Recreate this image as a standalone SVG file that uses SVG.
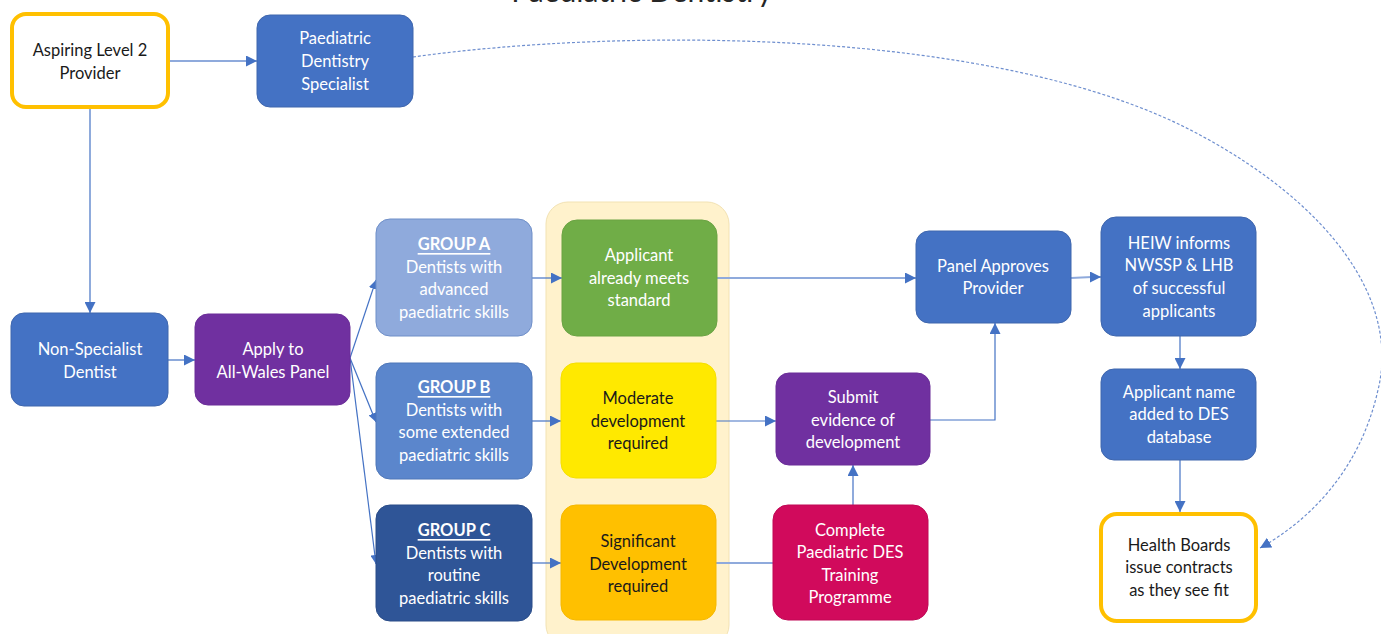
<svg xmlns="http://www.w3.org/2000/svg" width="1381" height="634" viewBox="0 0 1381 634">
<defs>
<marker id="arr" viewBox="0 0 10 10" refX="10" refY="5" markerWidth="9" markerHeight="9" markerUnits="userSpaceOnUse" orient="auto">
<path d="M0,0 L10,5 L0,10 z" fill="#4472C4"/>
</marker>
<marker id="arrL" viewBox="0 0 10 10" refX="10" refY="5" markerWidth="11" markerHeight="11" markerUnits="userSpaceOnUse" orient="auto">
<path d="M0,0 L10,5 L0,10 z" fill="#4472C4"/>
</marker>
</defs>
<style>
text{font-family:Lato,"Open Sans","Liberation Sans",sans-serif;font-size:16.5px;text-anchor:middle;dominant-baseline:central}
.w{fill:#ffffff}
.d{fill:#1a1a1a}
.box{stroke:#3f66ad;stroke-width:1}
.blue{fill:#4472C4}
.purple{fill:#7030A0;stroke:#6a2d98}
.ga{fill:#8FAADC;stroke:#6f8fc8}
.gb{fill:#5B86CC;stroke:#4f77b8}
.gc{fill:#2F5597;stroke:#2a4c88}
.green{fill:#70AD47;stroke:#6aa343}
.yel{fill:#FFE900;stroke:#f5df00}
.org{fill:#FFC000;stroke:#f5b800}
.crim{fill:#D10A5C;stroke:#c00855}
.outl{fill:#ffffff;stroke:#FFC000;stroke-width:4}
.c{fill:none;stroke:#4472C4;stroke-width:1.2}
.cl{fill:none;stroke:#8FAADC;stroke-width:2}
.dash{fill:none;stroke:#6f8fcf;stroke-width:1.2;stroke-dasharray:3 2}
.u{font-weight:bold;text-decoration:underline}
</style>
<text x="642" y="2" style="font-size:30px;fill:#262626;dominant-baseline:alphabetic">Paediatric Dentistry</text>

<g id="container"><rect x="546" y="202" width="183" height="445" rx="22" fill="#FFF2CC" stroke="#F2E2B3" stroke-width="1"/></g>

<g id="connectors">
<line class="cl" x1="168" y1="61" x2="249" y2="61"/><line class="c" x1="249" y1="61" x2="257" y2="61" marker-end="url(#arrL)"/>
<line class="c" x1="90" y1="107" x2="90" y2="313" marker-end="url(#arrL)"/>
<line class="c" x1="168" y1="360" x2="195" y2="360" marker-end="url(#arrL)"/>
<line class="c" x1="350" y1="358" x2="376" y2="280" marker-end="url(#arr)"/>
<line class="c" x1="350" y1="358" x2="376" y2="422" marker-end="url(#arr)"/>
<line class="c" x1="350" y1="358" x2="376" y2="564" marker-end="url(#arr)"/>
<line class="c" x1="532" y1="278" x2="562" y2="278" marker-end="url(#arrL)"/>
<line class="c" x1="532" y1="421" x2="561" y2="421" marker-end="url(#arrL)"/>
<line class="c" x1="532" y1="563" x2="561" y2="563" marker-end="url(#arrL)"/>
<line class="cl" x1="717" y1="278" x2="906" y2="278"/><line class="c" x1="905" y1="278" x2="916" y2="278" marker-end="url(#arrL)"/>
<line class="c" x1="716" y1="421" x2="776" y2="421" marker-end="url(#arrL)"/>
<line class="cl" x1="716" y1="563" x2="773" y2="563"/>
<line class="cl" x1="853" y1="505" x2="853" y2="472"/><line class="c" x1="853" y1="474" x2="853" y2="465" marker-end="url(#arrL)"/>
<polyline class="c" points="930,420 995,420 995,323" marker-end="url(#arrL)"/>
<line class="cl" x1="1071" y1="278" x2="1092" y2="277"/><line class="c" x1="1090" y1="277" x2="1101" y2="277" marker-end="url(#arrL)"/>
<line class="c" x1="1180" y1="336" x2="1180" y2="369" marker-end="url(#arrL)"/>
<line class="c" x1="1180" y1="460" x2="1180" y2="512" marker-end="url(#arrL)"/>
<path class="dash" d="M413,57 C620,28 1000,26 1200,135 C1330,205 1400,300 1378,390 C1360,470 1310,520 1260,548" marker-end="url(#arrL)"/>
</g>

<g id="aspiring"><rect class="outl" x="12" y="14" width="156" height="93" rx="14"/>
<text class="d" x="90" y="50">Aspiring Level 2</text><text class="d" x="90" y="73">Provider</text></g>

<g id="specialist"><rect class="box blue" x="257" y="15" width="156" height="92" rx="13"/>
<text class="w" x="335" y="38">Paediatric</text><text class="w" x="335" y="61">Dentistry</text><text class="w" x="335" y="84">Specialist</text></g>

<g id="nonspecialist"><rect class="box blue" x="11" y="313" width="157" height="93" rx="13"/>
<text class="w" x="90" y="349">Non-Specialist</text><text class="w" x="90" y="372">Dentist</text></g>

<g id="apply"><rect class="box purple" x="195" y="314" width="155" height="91" rx="13"/>
<text class="w" x="273" y="349">Apply to</text><text class="w" x="273" y="372">All-Wales Panel</text></g>

<g id="groupA"><rect class="box ga" x="376" y="219" width="156" height="117" rx="14"/>
<text class="w u" x="454" y="244">GROUP A</text><text class="w" x="454" y="267">Dentists with</text><text class="w" x="454" y="289">advanced</text><text class="w" x="454" y="312">paediatric skills</text></g>

<g id="groupB"><rect class="box gb" x="376" y="363" width="156" height="116" rx="14"/>
<text class="w u" x="454" y="387">GROUP B</text><text class="w" x="454" y="410">Dentists with</text><text class="w" x="454" y="432">some extended</text><text class="w" x="454" y="455">paediatric skills</text></g>

<g id="groupC"><rect class="box gc" x="376" y="505" width="156" height="116" rx="14"/>
<text class="w u" x="454" y="530">GROUP C</text><text class="w" x="454" y="553">Dentists with</text><text class="w" x="454" y="575">routine</text><text class="w" x="454" y="598">paediatric skills</text></g>

<g id="meets"><rect class="box green" x="562" y="220" width="155" height="116" rx="15"/>
<text class="w" x="639" y="255">Applicant</text><text class="w" x="639" y="278">already meets</text><text class="w" x="639" y="300">standard</text></g>

<g id="moderate"><rect class="box yel" x="561" y="363" width="155" height="115" rx="15"/>
<text class="d" x="638" y="398">Moderate</text><text class="d" x="638" y="421">development</text><text class="d" x="638" y="443">required</text></g>

<g id="significant"><rect class="box org" x="561" y="505" width="155" height="115" rx="15"/>
<text class="d" x="638" y="541">Significant</text><text class="d" x="638" y="564">Development</text><text class="d" x="638" y="586">required</text></g>

<g id="submit"><rect class="box purple" x="776" y="373" width="154" height="92" rx="13"/>
<text class="w" x="853" y="397">Submit</text><text class="w" x="853" y="420">evidence of</text><text class="w" x="853" y="442">development</text></g>

<g id="complete"><rect class="box crim" x="773" y="505" width="155" height="115" rx="15"/>
<text class="w" x="850" y="530">Complete</text><text class="w" x="850" y="552">Paediatric DES</text><text class="w" x="850" y="575">Training</text><text class="w" x="850" y="597">Programme</text></g>

<g id="approves"><rect class="box blue" x="916" y="231" width="155" height="92" rx="13"/>
<text class="w" x="993" y="266">Panel Approves</text><text class="w" x="993" y="288">Provider</text></g>

<g id="heiw"><rect class="box blue" x="1101" y="217" width="155" height="119" rx="15"/>
<text class="w" x="1179" y="243">HEIW informs</text><text class="w" x="1179" y="265">NWSSP &amp; LHB</text><text class="w" x="1179" y="288">of successful</text><text class="w" x="1179" y="311">applicants</text></g>

<g id="database"><rect class="box blue" x="1101" y="369" width="155" height="91" rx="13"/>
<text class="w" x="1179" y="392">Applicant name</text><text class="w" x="1179" y="414">added to DES</text><text class="w" x="1179" y="437">database</text></g>

<g id="healthboards"><rect class="outl" x="1101" y="514" width="155" height="107" rx="16"/>
<text class="d" x="1179" y="545">Health Boards</text><text class="d" x="1179" y="567">issue contracts</text><text class="d" x="1179" y="590">as they see fit</text></g>
</svg>
